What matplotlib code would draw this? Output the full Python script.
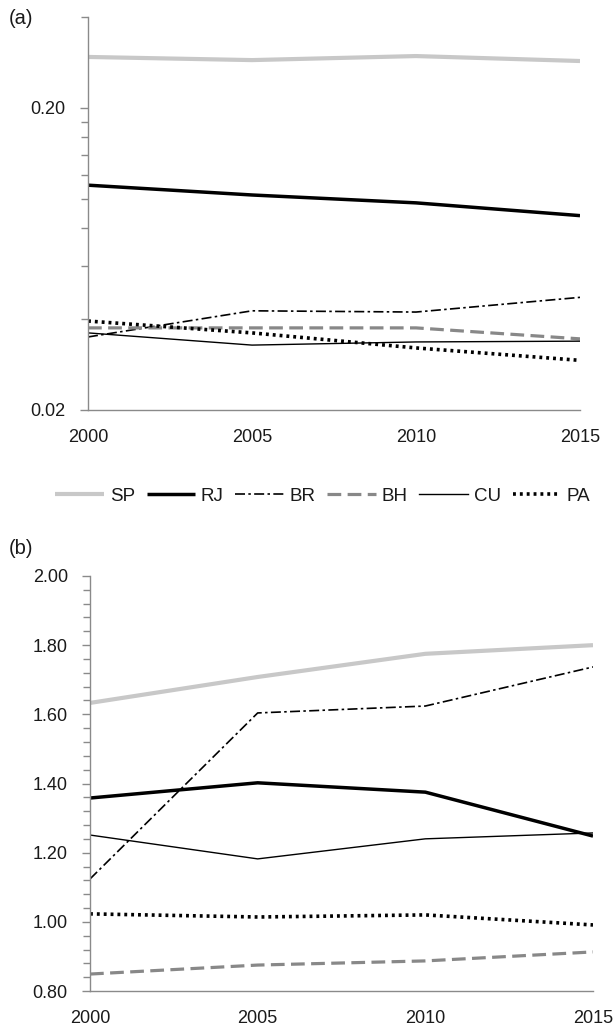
import matplotlib
matplotlib.use("Agg")
import matplotlib.pyplot as plt
from matplotlib.ticker import FixedLocator, FixedFormatter, NullFormatter
import numpy as np

plt.rcParams['font.family'] = ['Liberation Sans', 'DejaVu Sans']

years = [2000, 2005, 2010, 2015]
series = ["SP", "RJ", "BR", "BH", "CU", "PA"]

# Panel (a) values (log scale)
a_SP = [0.295, 0.288, 0.297, 0.286]
a_RJ = [0.111, 0.103, 0.097, 0.088]
a_BR = [0.0349, 0.0426, 0.0422, 0.0472]
a_BH = [0.0374, 0.0374, 0.0374, 0.0344]
a_CU = [0.0360, 0.0328, 0.0336, 0.0338]
a_PA = [0.0394, 0.0360, 0.0321, 0.0292]

# Panel (b) values
b_SP = [1.633, 1.708, 1.775, 1.800]
b_RJ = [1.358, 1.402, 1.375, 1.248]
b_BR = [1.124, 1.604, 1.624, 1.737]
b_BH = [0.849, 0.875, 0.887, 0.913]
b_CU = [1.251, 1.182, 1.240, 1.257]
b_PA = [1.023, 1.014, 1.020, 0.991]

a_major = [0.02, 0.2]
a_major_labels = ["0.02", "0.20"]
a_minor = [0.04, 0.06, 0.08, 0.10, 0.12, 0.14, 0.16, 0.18, 0.4]
b_major = [0.8, 1.0, 1.2, 1.4, 1.6, 1.8, 2.0]
b_major_labels = ["0.80", "1.00", "1.20", "1.40", "1.60", "1.80", "2.00"]

styles = {
    "SP": dict(color="#c8c8c8", lw=3.0, ls="-", solid_capstyle="butt"),
    "RJ": dict(color="#000000", lw=2.5, ls="-", solid_capstyle="butt"),
    "BR": dict(color="#000000", lw=1.2, ls=(0, (6, 2, 1.5, 2))),
    "BH": dict(color="#888888", lw=2.3, ls=(0, (4.3, 2))),
    "CU": dict(color="#000000", lw=1.0, ls="-"),
    "PA": dict(color="#000000", lw=2.6, ls=(0, (0.8, 1.1))),
}

fig = plt.figure(figsize=(6.13, 10.28), dpi=100)
W, H = 613, 1028

axa = fig.add_axes([88 / W, 1 - 410 / H, 492 / W, 393 / H])
axb = fig.add_axes([90 / W, 1 - 991 / H, 503 / W, 415 / H])

data_a = dict(SP=a_SP, RJ=a_RJ, BR=a_BR, BH=a_BH, CU=a_CU, PA=a_PA)
data_b = dict(SP=b_SP, RJ=b_RJ, BR=b_BR, BH=b_BH, CU=b_CU, PA=b_PA)

handles = []
for s in series:
    h, = axa.plot(years, data_a[s], label=s, **styles[s])
    handles.append(h)
    axb.plot(years, data_b[s], **styles[s])

spine_c = "#8a8a8a"
txt_c = "#1a1a1a"
fs = 13
for ax in (axa, axb):
    for sp in ("top", "right"):
        ax.spines[sp].set_visible(False)
    for sp in ("left", "bottom"):
        ax.spines[sp].set_color(spine_c)
        ax.spines[sp].set_linewidth(1.0)
    ax.set_xlim(2000, 2015)
    ax.set_xticks(years)
    ax.set_xticklabels([str(y) for y in years], fontsize=fs, color=txt_c)
    ax.tick_params(axis="x", length=0, pad=14)
    ax.tick_params(axis="y", which="both", direction="out", color=spine_c,
                   labelsize=fs, labelcolor=txt_c, width=1.0)
    ax.tick_params(axis="y", which="major", length=6, pad=10)
    ax.tick_params(axis="y", which="minor", length=5)

axa.set_yscale("log")
axa.set_ylim(0.02, 0.4)
axa.yaxis.set_major_locator(FixedLocator(a_major))
axa.yaxis.set_major_formatter(FixedFormatter(a_major_labels))
axa.yaxis.set_minor_locator(FixedLocator(a_minor))
axa.yaxis.set_minor_formatter(NullFormatter())

axb.set_ylim(0.8, 2.0)
axb.yaxis.set_major_locator(FixedLocator(b_major))
axb.yaxis.set_major_formatter(FixedFormatter(b_major_labels))
axb.yaxis.set_minor_locator(FixedLocator(np.arange(0.84, 2.0, 0.04)))
axb.yaxis.set_minor_formatter(NullFormatter())

for ax in (axa, axb):
    for lab in ax.get_xticklabels() + ax.get_yticklabels():
        lab.set_clip_on(False)

fig.text(9 / W, 1 - 19 / H, "(a)", fontsize=14.5, va="center", ha="left", color=txt_c)
fig.text(9 / W, 1 - 548 / H, "(b)", fontsize=14.5, va="center", ha="left", color=txt_c)

fig.legend(handles=handles, labels=series, loc="center", ncol=6,
           bbox_to_anchor=(323 / W, 1 - 496 / H), frameon=False,
           fontsize=13.5, handlelength=2.6, handletextpad=0.3,
           columnspacing=0.62, borderaxespad=0, labelcolor=txt_c)

fig.savefig("out.png", dpi=100)
